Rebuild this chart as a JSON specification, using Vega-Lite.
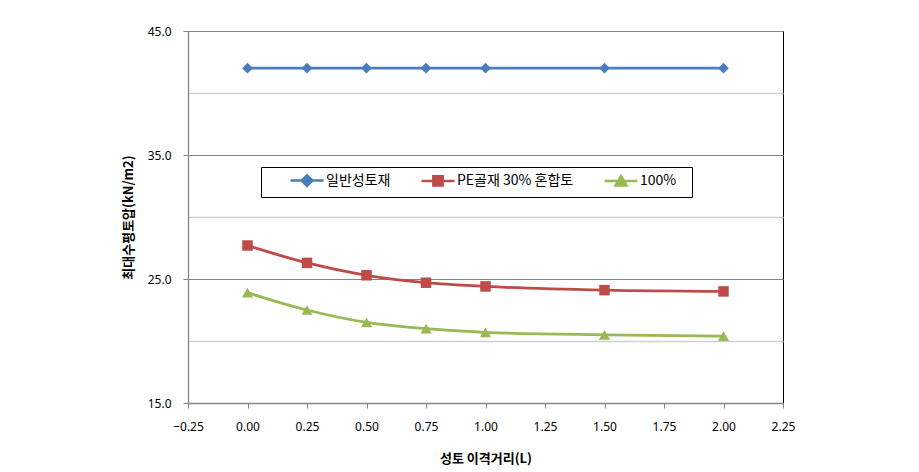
{
  "$schema": "https://vega.github.io/schema/vega-lite/v6.json",
  "width": 595,
  "height": 372,
  "autosize": {"type": "none"},
  "padding": {"left": 188, "top": 31, "right": 136, "bottom": 69},
  "background": "white",
  "config": {
    "view": {"stroke": "#000000", "strokeWidth": 1},
    "font": "Noto Sans"
  },
  "data": {
    "values": [
      {"s": "일반성토재", "x": 0.0, "y": 42.0},
      {"s": "일반성토재", "x": 0.25, "y": 42.0},
      {"s": "일반성토재", "x": 0.5, "y": 42.0},
      {"s": "일반성토재", "x": 0.75, "y": 42.0},
      {"s": "일반성토재", "x": 1.0, "y": 42.0},
      {"s": "일반성토재", "x": 1.5, "y": 42.0},
      {"s": "일반성토재", "x": 2.0, "y": 42.0},
      {"s": "PE골재 30% 혼합토", "x": 0.0, "y": 27.7},
      {"s": "PE골재 30% 혼합토", "x": 0.25, "y": 26.3},
      {"s": "PE골재 30% 혼합토", "x": 0.5, "y": 25.3},
      {"s": "PE골재 30% 혼합토", "x": 0.75, "y": 24.7},
      {"s": "PE골재 30% 혼합토", "x": 1.0, "y": 24.4},
      {"s": "PE골재 30% 혼합토", "x": 1.5, "y": 24.1},
      {"s": "PE골재 30% 혼합토", "x": 2.0, "y": 24.0},
      {"s": "100%", "x": 0.0, "y": 23.9},
      {"s": "100%", "x": 0.25, "y": 22.5},
      {"s": "100%", "x": 0.5, "y": 21.5},
      {"s": "100%", "x": 0.75, "y": 21.0},
      {"s": "100%", "x": 1.0, "y": 20.7},
      {"s": "100%", "x": 1.5, "y": 20.5},
      {"s": "100%", "x": 2.0, "y": 20.4}
    ]
  },
  "encoding": {
    "x": {
      "field": "x",
      "type": "quantitative",
      "scale": {"domain": [-0.25, 2.25], "nice": false, "zero": false},
      "axis": {
        "values": [-0.25, 0, 0.25, 0.5, 0.75, 1, 1.25, 1.5, 1.75, 2, 2.25],
        "format": ".2f",
        "grid": false,
        "domainColor": "#868686",
        "domainWidth": 1.3,
        "tickColor": "#868686",
        "tickSize": 5,
        "labelFont": "Noto Sans",
        "labelFontSize": 12,
        "labelColor": "#000000",
        "labelPadding": 13,
        "labelFlush": false,
        "title": "성토 이격거리(L)",
        "titleFont": "Noto Sans CJK KR",
        "titleFontSize": 13,
        "titleFontWeight": "bold",
        "titleColor": "#000000",
        "titleX": 297.5,
        "titleY": 55,
        "titleBaseline": "middle",
        "titleAlign": "center"
      }
    },
    "y": {
      "field": "y",
      "type": "quantitative",
      "scale": {"domain": [15, 45], "nice": false, "zero": false},
      "axis": {
        "values": [15, 20, 25, 30, 35, 40, 45],
        "labelExpr": "datum.value % 10 == 5 ? format(datum.value, '.1f') : ''",
        "grid": true,
        "gridColor": {"condition": {"test": "datum.value % 10 == 5", "value": "#868686"}, "value": "#d0d0d0"},
        "gridWidth": {"condition": {"test": "datum.value % 10 == 5", "value": 1}, "value": 1.3},
        "tickOpacity": {"condition": {"test": "datum.value % 10 == 5", "value": 1}, "value": 0},
        "domainColor": "#868686",
        "domainWidth": 1.3,
        "tickColor": "#868686",
        "tickSize": 5,
        "labelFont": "Noto Sans",
        "labelFontSize": 12,
        "labelColor": "#000000",
        "labelPadding": 12,
        "labelFlush": false,
        "title": "최대수평토압(kN/m2)",
        "titleFont": "Noto Sans CJK KR",
        "titleFontSize": 13,
        "titleFontWeight": "bold",
        "titleColor": "#000000",
        "titleX": -60,
        "titleY": 186,
        "titleAngle": -90,
        "titleBaseline": "middle",
        "titleAlign": "center"
      }
    },
    "color": {
      "field": "s",
      "type": "nominal",
      "scale": {
        "domain": ["일반성토재", "PE골재 30% 혼합토", "100%"],
        "range": ["#4A7EBB", "#BE4B48", "#98B954"]
      },
      "legend": {
        "orient": "none",
        "legendX": 73,
        "legendY": 136,
        "direction": "horizontal",
        "title": null,
        "strokeColor": "#000000",
        "fillColor": "#ffffff",
        "padding": 6,
        "symbolSize": 144,
        "symbolStrokeWidth": 2.5,
        "labelFont": "Noto Sans CJK KR",
        "labelFontSize": 14,
        "labelColor": "#000000",
        "labelOffset": 44,
        "columnPadding": 7,
        "encode": {
          "symbols": {
            "update": {
              "shape": {"signal": "datum.value === '일반성토재' ? 'M2.667,0H8.167M4.517,0L5.417,-0.9L6.317,0L5.417,0.9Z' : (datum.value === '100%' ? 'M2.667,0H8.167M4.497,0.75L5.417,-0.85L6.337,0.75ZM15.4,0' : 'M2.667,0H8.167M4.637,-0.78H6.197V0.78H4.637Z')"},
              "fill": {"signal": "scale('color', datum.value)"},
              "stroke": {"signal": "scale('color', datum.value)"},
              "strokeWidth": {"value": 2.5},
              "opacity": {"value": 1},
              "fillOpacity": {"value": 1},
              "strokeOpacity": {"value": 1}
            }
          }
        }
      }
    }
  },
  "layer": [
    {
      "mark": {"type": "line", "interpolate": "monotone", "strokeWidth": 2.8}
    },
    {
      "transform": [{"filter": "datum.s === '일반성토재'"}],
      "mark": {"type": "point", "filled": true, "opacity": 1, "size": 115, "shape": "diamond"}
    },
    {
      "transform": [{"filter": "datum.s === 'PE골재 30% 혼합토'"}],
      "mark": {"type": "point", "filled": true, "opacity": 1, "size": 110, "shape": "square"}
    },
    {
      "transform": [{"filter": "datum.s === '100%'"}],
      "mark": {"type": "point", "filled": true, "opacity": 1, "size": 125, "shape": "triangle-up"}
    }
  ]
}
